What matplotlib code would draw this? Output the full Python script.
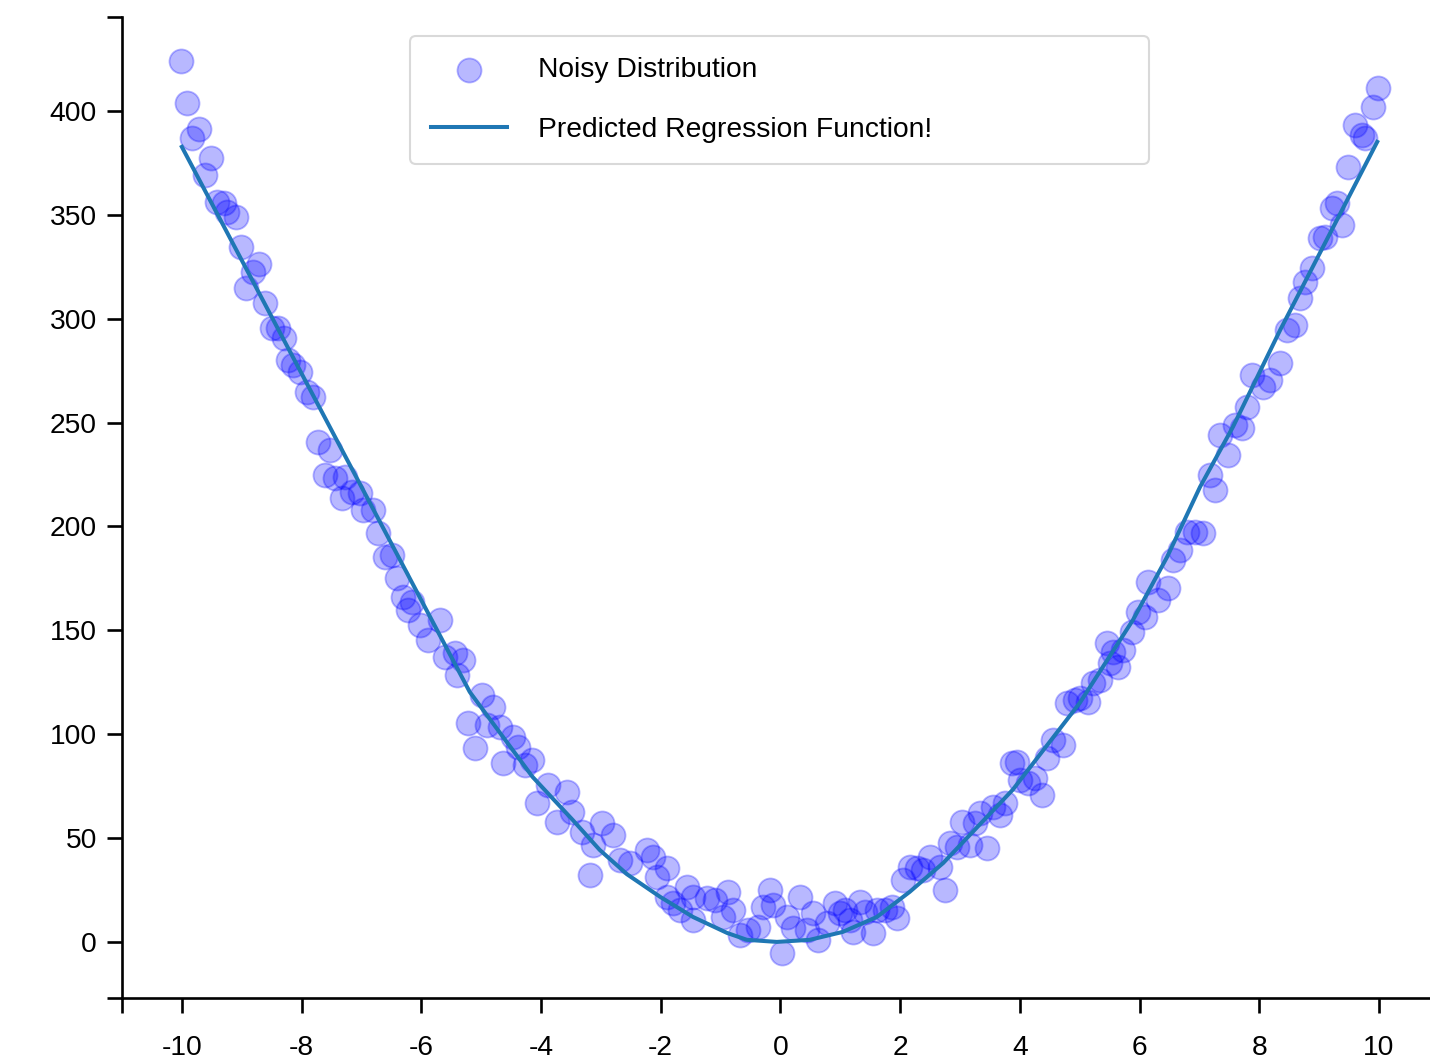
import matplotlib
matplotlib.use("Agg")
import matplotlib.pyplot as plt

plt.rcParams['font.family'] = ['Liberation Sans', 'DejaVu Sans']
plt.rcParams['axes.unicode_minus'] = False

# noisy samples
x_noisy = [-10.02, -9.92, -9.72, -9.83, -9.52, -9.62, -9.42, -9.30, -9.25, -9.10,
           -9.01, -8.71, -8.81, -8.93, -8.61, -8.50, -8.40, -8.30, -8.23, -8.15,
           -8.03, -7.91, -7.81, -7.73, -7.53, -7.61, -7.44, -7.28, -7.33, -7.16,
           -7.03, -6.98, -6.81, -6.73, -6.61, -6.49, -6.41, -6.31, -6.16, -6.22,
           -6.02, -5.69, -5.89, -5.61, -5.44, -5.30, -5.41, -4.99, -4.80, -5.22,
           -4.90, -4.69, -5.10, -4.47, -4.39, -4.64, -4.27, -4.15, -3.88, -3.57,
           -4.07, -3.73, -3.48, -3.32, -2.98, -3.13, -2.80, -3.18, -2.68, -2.51,
           -2.23, -2.13, -1.90, -2.06, -1.56, -1.90, -1.46, -1.68, -1.46, -1.80,
           -1.23, -1.09, -0.88, -0.79, -0.96, -0.68, -0.54, -0.38, -0.29, -0.18,
           -0.13, 0.03, 0.11, 0.21, 0.33, 0.44, 0.54, 0.63, 0.78, 0.91,
           0.99, 1.08, 1.16, 1.21, 1.33, 1.41, 1.55, 1.61, 1.75, 1.86,
           1.95, 2.05, 2.16, 2.28, 2.38, 2.50, 2.67, 2.75, 2.83, 2.95,
           3.03, 3.17, 3.25, 3.45, 3.33, 3.55, 3.67, 3.75, 3.87, 3.95,
           4.00, 4.14, 4.25, 4.37, 4.45, 4.55, 4.72, 4.79, 4.92, 5.00,
           5.14, 5.22, 5.34, 5.46, 5.51, 5.64, 5.56, 5.72, 5.87, 5.97,
           6.09, 6.14, 6.31, 6.47, 6.56, 6.68, 6.79, 6.93, 7.06, 7.26,
           7.18, 7.48, 7.34, 7.59, 7.71, 7.79, 7.88, 8.06, 8.18, 8.35,
           8.46, 8.60, 8.68, 8.76, 8.88, 9.01, 9.10, 9.21, 9.30, 9.38,
           9.48, 9.60, 9.72, 9.77, 9.90, 9.98]
y_noisy = [424.1, 403.9, 391.3, 387.0, 377.4, 369.2, 356.2, 355.7, 351.4, 349.0,
           334.5, 326.4, 322.5, 314.8, 307.6, 295.6, 295.6, 290.7, 280.1, 277.7,
           274.4, 264.7, 262.3, 240.7, 236.8, 224.8, 223.3, 223.8, 213.7, 216.6,
           216.1, 207.9, 207.9, 196.9, 185.3, 186.3, 175.2, 166.1, 163.7, 159.8,
           152.6, 155.0, 145.4, 137.2, 139.1, 135.7, 128.5, 118.9, 113.1, 105.4,
           104.5, 103.5, 93.4, 98.7, 93.9, 86.2, 85.2, 87.6, 75.6, 72.2,
           66.9, 57.8, 62.6, 52.9, 57.3, 46.7, 51.5, 32.3, 39.5, 38.0,
           44.3, 40.9, 35.6, 31.3, 26.5, 21.7, 21.7, 15.4, 10.6, 18.8,
           21.2, 20.2, 24.1, 15.4, 12.0, 3.4, 5.8, 7.2, 16.8, 25.0,
           17.8, -5.3, 12.0, 6.7, 21.7, 5.8, 14.0, 1.0, 9.1, 18.8,
           14.0, 15.4, 10.6, 4.8, 19.3, 14.4, 4.3, 15.4, 15.4, 16.8,
           11.6, 29.8, 36.1, 35.6, 34.7, 40.9, 36.1, 25.0, 47.7, 45.7,
           57.8, 46.7, 57.3, 45.2, 62.1, 65.0, 61.1, 66.9, 86.2, 86.6,
           78.0, 76.5, 78.9, 70.8, 88.6, 97.2, 94.8, 115.0, 116.5, 117.4,
           115.5, 124.7, 126.1, 143.9, 134.3, 132.4, 139.5, 140.6, 149.2, 158.8,
           156.4, 173.3, 164.6, 170.4, 183.9, 188.7, 197.4, 197.4, 196.9, 217.6,
           224.8, 234.4, 244.0, 248.9, 247.4, 257.5, 272.9, 267.1, 270.5, 278.7,
           294.6, 297.0, 310.0, 317.7, 324.4, 338.9, 339.4, 353.3, 355.7, 345.1,
           373.0, 393.3, 388.4, 387.0, 401.9, 411.1]

# predicted regression curve (vertices)
x_pred = [-10.0, -5.19, -4.14, -3.47, -3.02, -2.56, -2.01, -1.46, -0.89, -0.56, -0.06,
          0.49, 1.04, 1.61, 2.16, 2.72, 3.88, 5.00, 5.89, 6.46, 7.01, 7.56, 8.35, 9.97]
y_pred = [382.7, 120.3, 79.4, 58.7, 44.3, 32.5, 21.7, 12.0, 4.3, 1.0, 0.0,
          1.0, 4.8, 12.0, 24.1, 38.0, 73.2, 115.0, 155.0, 185.3, 219.0, 247.9, 294.6, 385.1]

x_ticks = [-10, -8, -6, -4, -2, 0, 2, 4, 6, 8, 10]
y_ticks = [0, 50, 100, 150, 200, 250, 300, 350, 400]

W, H = 1430, 1063
fig = plt.figure(figsize=(W / 100, H / 100), dpi=100)
ax = fig.add_axes([122 / W, 1 - 998 / H, 1 - 122 / W, (998 - 17) / H])

ax.scatter(x_noisy, y_noisy, s=300, color='blue', alpha=0.28, linewidths=1.3,
           label='Noisy Distribution', zorder=2)
ax.plot(x_pred, y_pred, color='#1f77b4', lw=2.9, label='Predicted Regression Function!',
        zorder=3)

ax.set_xlim(-11, 10.852)
ax.set_ylim(-27, 445.2)
ax.set_xticks(x_ticks)
ax.set_yticks(y_ticks)
# d3-style outer ticks at the ends of each axis
ax.set_xticks([-11], minor=True)
ax.set_yticks([-27, 445.2], minor=True)

for s in ['top', 'right']:
    ax.spines[s].set_visible(False)
for s in ['left', 'bottom']:
    ax.spines[s].set_linewidth(1.9)
ax.tick_params(which='both', direction='out', length=11, width=1.9, labelsize=20.3)
ax.tick_params(axis='x', pad=15.5)
ax.tick_params(axis='y', pad=7)

top = 1 - 36 / H
leg = ax.legend(loc='upper left', bbox_to_anchor=(410 / W, top - 0.01, 739 / W, 0.01),
                bbox_transform=fig.transFigure, mode='expand', borderaxespad=0,
                fontsize=20.3, handlelength=2.7, handletextpad=1.1, borderpad=0.75,
                labelspacing=1.2, fancybox=True, framealpha=1, edgecolor='#d9d9d9')
leg.get_frame().set_linewidth(1.5)

fig.savefig('out.png', dpi=100)
